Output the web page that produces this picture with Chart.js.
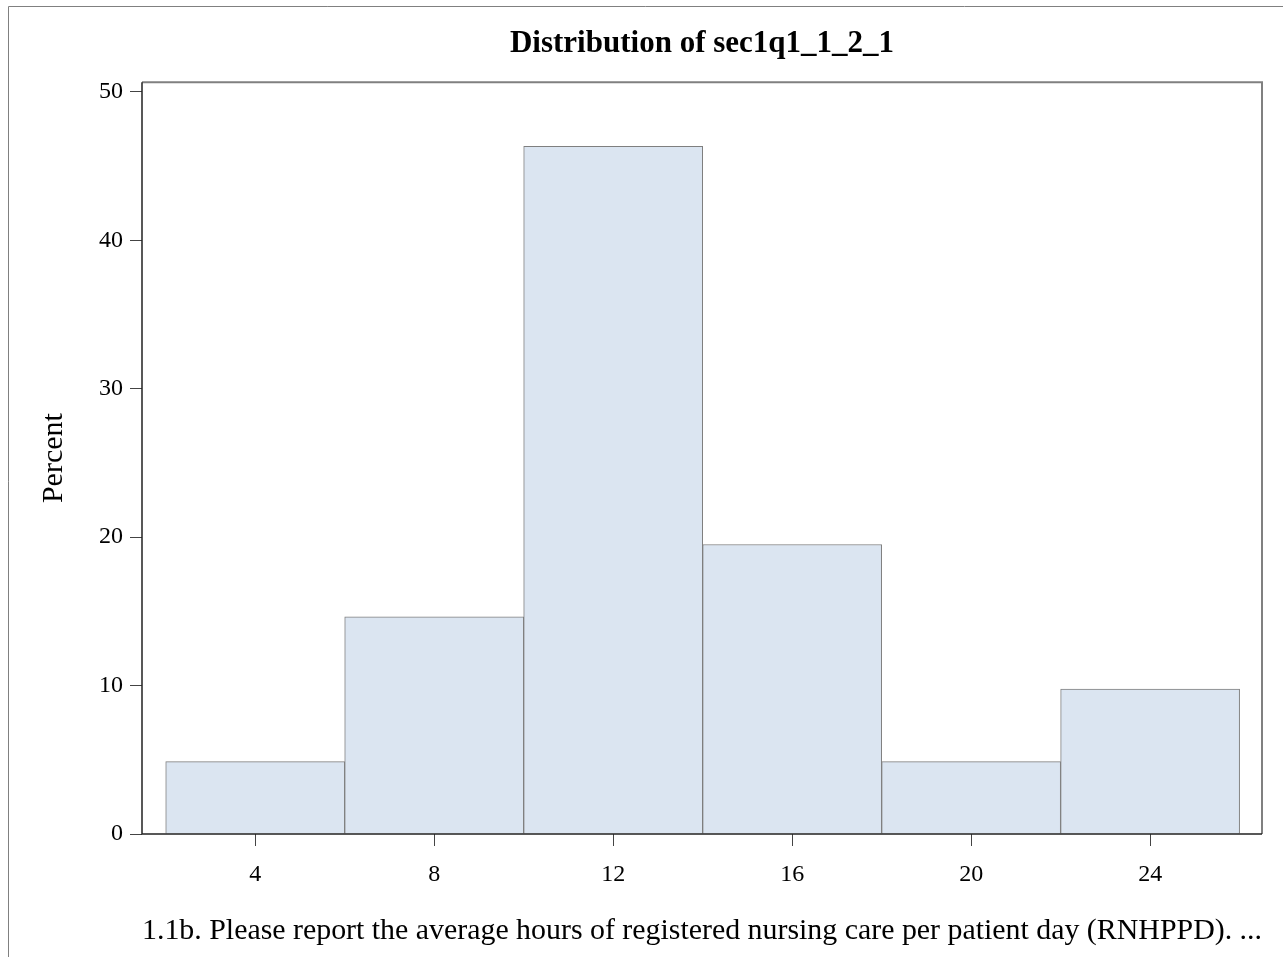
<!DOCTYPE html>
<html>
<head>
<meta charset="utf-8">
<script src="https://cdn.jsdelivr.net/npm/chart.js@4"></script>
<style>
html,body{margin:0;padding:0;background:#fff;}
#wrap{width:1283px;height:957px;position:relative;}
</style>
</head>
<body>
<div id="wrap"><canvas id="c" width="1283" height="957"></canvas></div>
<script>
// Data
const binMidpoints = [4, 8, 12, 16, 20, 24];
const percentValues = [4.88, 14.63, 46.34, 19.51, 4.88, 9.76];
const xTickValues = [4, 8, 12, 16, 20, 24];
const yTickValues = [0, 10, 20, 30, 40, 50];
const chartTitle = 'Distribution of sec1q1_1_2_1';
const xAxisTitle = '1.1b. Please report the average hours of registered nursing care per patient day (RNHPPD). ...';
const yAxisTitle = 'Percent';

const serif = "'Liberation Serif', 'DejaVu Serif', serif";

const framePlugin = {
  id: 'frame',
  afterDraw(chart) {
    const ctx = chart.ctx;
    const a = chart.chartArea;
    ctx.save();
    ctx.lineWidth = 1;
    ctx.strokeStyle = '#808080';
    ctx.beginPath();
    ctx.moveTo(8.5, chart.height);
    ctx.lineTo(8.5, 6.5);
    ctx.lineTo(chart.width, 6.5);
    ctx.stroke();
    ctx.strokeStyle = '#808080';
    ctx.lineWidth = 2;
    ctx.beginPath();
    ctx.moveTo(a.left, a.top);
    ctx.lineTo(a.right, a.top);
    ctx.lineTo(a.right, a.bottom);
    ctx.stroke();
    ctx.strokeStyle = '#222222';
    ctx.lineWidth = 1.5;
    ctx.beginPath();
    ctx.moveTo(a.left, a.top);
    ctx.lineTo(a.left, a.bottom);
    ctx.lineTo(a.right, a.bottom);
    ctx.stroke();
    ctx.restore();
  }
};

new Chart(document.getElementById('c'), {
  type: 'bar',
  data: {
    datasets: [{
      data: binMidpoints.map((x, i) => ({x: x, y: percentValues[i]})),
      backgroundColor: '#DBE5F1',
      borderColor: '#7F7F7F',
      borderWidth: 1,
      barPercentage: 1,
      categoryPercentage: 1
    }]
  },
  options: {
    responsive: false,
    animation: false,
    devicePixelRatio: 1,
    layout: { padding: { left: 0, right: 21, top: 0, bottom: 0 } },
    plugins: {
      legend: { display: false },
      tooltip: { enabled: false },
      title: {
        display: true,
        text: chartTitle,
        fullSize: false,
        color: '#000',
        font: { family: serif, size: 31, weight: 'bold' },
        padding: { top: 25, bottom: 20 }
      }
    },
    scales: {
      x: {
        type: 'linear',
        offset: false,
        min: 1.47,
        max: 26.5,
        afterBuildTicks: s => { s.ticks = xTickValues.map(v => ({value: v})); },
        afterFit: s => { s.height = 123; },
        grid: { display: true, offset: false, drawOnChartArea: false, drawTicks: true, tickLength: 12, tickColor: '#444', color: '#444' },
        border: { display: false },
        ticks: { color: '#000', font: { family: serif, size: 24 }, padding: 14, maxRotation: 0 },
        title: { display: true, text: xAxisTitle, color: '#000', font: { family: serif, size: 30 }, padding: { top: 8, bottom: 8 } }
      },
      y: {
        type: 'linear',
        min: 0,
        max: 50.66,
        afterBuildTicks: s => { s.ticks = yTickValues.map(v => ({value: v})); },
        afterFit: s => { s.width = 142; },
        grid: { display: true, drawOnChartArea: false, drawTicks: true, tickLength: 12, tickColor: '#444', color: '#444' },
        border: { display: false },
        ticks: { color: '#000', font: { family: serif, size: 24 }, padding: 7 },
        title: { display: true, text: yAxisTitle, color: '#000', font: { family: serif, size: 30 }, padding: { top: 36, bottom: 0 } }
      }
    }
  },
  plugins: [framePlugin]
});
</script>
</body>
</html>
